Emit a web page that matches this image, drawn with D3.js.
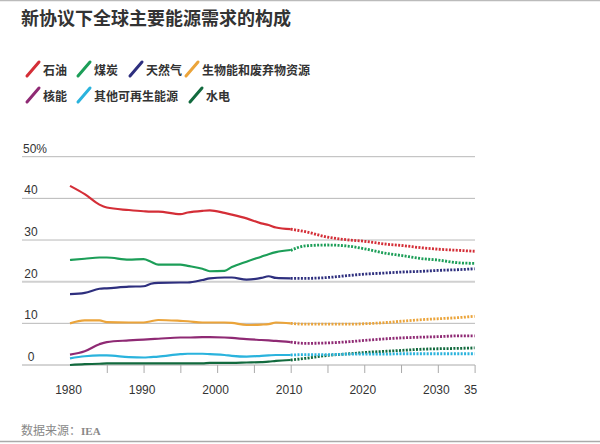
<!DOCTYPE html>
<html>
<head>
<meta charset="utf-8">
<script src="https://cdn.jsdelivr.net/npm/d3@7"></script>
<style>
  body { margin: 0; background: #fff; }
  svg { display: block; }
</style>
</head>
<body>
<div id="chart"></div>
<script>
var seriesNames = ["石油", "煤炭", "天然气", "生物能和废弃物资源", "核能", "其他可再生能源", "水电"];
var seriesColors = ["#d42e37", "#1c9e58", "#2e2f7e", "#eba43a", "#8f2a74", "#2ab3dd", "#126a3e"];

// actual shares, %
var histYears = [1980, 1982, 1984, 1985, 1988, 1990, 1991, 1992, 1995, 1996, 1998, 1999, 2001, 2002, 2004, 2006, 2007, 2008, 2010];
var oilHist     = [43.0, 41.0, 38.5, 37.8, 37.2, 36.9, 36.8, 36.8, 36.2, 36.6, 37.0, 37.1, 36.5, 36.1, 35.2, 34.0, 33.6, 33.0, 32.6];
var coalHist    = [25.2, 25.5, 25.8, 25.8, 25.3, 25.4, 24.8, 24.1, 24.1, 23.8, 23.1, 22.5, 22.6, 23.5, 24.8, 26.0, 26.6, 27.1, 27.6];
var gasHist     = [17.0, 17.3, 18.3, 18.4, 18.8, 18.9, 19.5, 19.7, 19.8, 19.8, 20.4, 20.8, 21.0, 21.0, 20.5, 20.9, 21.3, 20.9, 20.8];
var bioHist     = [10.0, 10.7, 10.7, 10.3, 10.2, 10.2, 10.5, 10.8, 10.6, 10.5, 10.2, 10.2, 10.2, 10.1, 9.6, 9.7, 9.8, 10.2, 10.0];
var nuclearHist = [2.5, 3.3, 5.0, 5.5, 5.9, 6.1, 6.2, 6.3, 6.6, 6.6, 6.7, 6.7, 6.6, 6.5, 6.2, 6.0, 5.9, 5.8, 5.5];
var otherHist   = [1.6, 2.1, 2.3, 2.3, 1.9, 1.8, 1.9, 2.0, 2.6, 2.7, 2.7, 2.6, 2.4, 2.2, 2.0, 2.2, 2.3, 2.4, 2.4];
var hydroHist   = [0.0, 0.2, 0.3, 0.4, 0.4, 0.4, 0.4, 0.4, 0.4, 0.4, 0.4, 0.5, 0.5, 0.5, 0.6, 0.7, 0.8, 1.0, 1.2];

// projections, %
var projYears = [2010, 2012, 2015, 2018, 2020, 2023, 2025, 2028, 2030, 2033, 2035];
var oilProj     = [32.6, 32.0, 30.7, 30.0, 29.7, 29.0, 28.7, 28.1, 27.8, 27.5, 27.3];
var coalProj    = [27.5, 28.6, 28.8, 28.5, 27.9, 26.8, 26.3, 25.5, 25.2, 24.5, 24.4];
var gasProj     = [20.8, 20.8, 21.0, 21.5, 21.8, 22.1, 22.3, 22.5, 22.7, 22.9, 23.1];
var bioProj     = [10.0, 9.8, 9.8, 9.8, 9.9, 10.2, 10.5, 10.9, 11.1, 11.4, 11.7];
var nuclearProj = [5.5, 5.2, 5.3, 5.6, 5.9, 6.3, 6.5, 6.7, 6.8, 7.0, 7.0];
var otherProj   = [2.4, 2.5, 2.5, 2.6, 2.6, 2.6, 2.7, 2.7, 2.7, 2.7, 2.7];
var hydroProj   = [1.2, 1.6, 2.3, 2.7, 3.0, 3.3, 3.5, 3.8, 3.9, 4.0, 4.1];

var yTicks = [0, 10, 20, 30, 40, 50];
var xLabelYears = [1980, 1990, 2000, 2010, 2020, 2030, 2035];
var xTickYears = [1985, 1990, 1995, 2000, 2005, 2010, 2015, 2020, 2025, 2030, 2035];

var hist = [oilHist, coalHist, gasHist, bioHist, nuclearHist, otherHist, hydroHist];
var proj = [oilProj, coalProj, gasProj, bioProj, nuclearProj, otherProj, hydroProj];

var W = 600, H = 444;
var cjk = "'Noto Sans CJK SC', sans-serif";
var latin = "'Liberation Sans', Arial, sans-serif";

var svg = d3.select("#chart").append("svg")
    .attr("width", W)
    .attr("height", H);

// frame rules
svg.append("line").attr("x1", 0).attr("x2", W).attr("y1", 0.5).attr("y2", 0.5)
    .attr("stroke", "#bbb").attr("stroke-width", 1.5);
svg.append("line").attr("x1", 0).attr("x2", W).attr("y1", 441.5).attr("y2", 441.5)
    .attr("stroke", "#aaa").attr("stroke-width", 1.5);

// title
svg.append("text")
    .attr("x", 21).attr("y", 25)
    .style("font-family", cjk).style("font-weight", "bold")
    .style("font-size", "18px").attr("fill", "#333")
    .text("新协议下全球主要能源需求的构成");

var x = d3.scaleLinear().domain([1980, 2035]).range([70, 474.6]);
var y = d3.scaleLinear().domain([0, 50]).range([365, 156.7]);

// gridlines
svg.append("g").selectAll("line")
    .data(yTicks.filter(function(d) { return d > 0; }))
    .enter().append("line")
    .attr("x1", 22).attr("x2", 475)
    .attr("y1", function(d) { return y(d); })
    .attr("y2", function(d) { return y(d); })
    .attr("stroke", function(d) { return d == 20 ? "#d0d0d0" : "#b8b8b8"; })
    .attr("stroke-width", function(d) { return d == 20 ? 2 : 1; });

// y labels
svg.append("g").selectAll("text")
    .data(yTicks)
    .enter().append("text")
    .attr("x", function(d) { return d == 50 ? 23 : 31; })
    .attr("y", function(d) { return y(d) - 4; })
    .attr("text-anchor", function(d) { return d == 50 ? "start" : "middle"; })
    .style("font-family", latin).style("font-size", "12px").attr("fill", "#333")
    .text(function(d) { return d == 50 ? "50%" : d; });

// x axis
var xAxis = d3.axisBottom(x)
    .tickValues(xTickYears)
    .tickSize(8)
    .tickSizeOuter(0)
    .tickFormat("");
var gx = svg.append("g")
    .attr("transform", "translate(0," + y(0) + ")")
    .call(xAxis);
gx.select(".domain").remove();
gx.selectAll(".tick line").attr("stroke", "#aaa");
svg.append("line").attr("x1", 22).attr("x2", 475)
    .attr("y1", y(0)).attr("y2", y(0))
    .attr("stroke", "#aaa").attr("stroke-width", 1);

svg.append("g").selectAll("text")
    .data(xLabelYears)
    .enter().append("text")
    .attr("x", function(d) { return x(d) - (d == 2035 ? 4 : 1.5); })
    .attr("y", 394)
    .attr("text-anchor", "middle")
    .style("font-family", latin).style("font-size", "12px").attr("fill", "#333")
    .text(function(d) { return d == 2035 ? "35" : d; });

var line = d3.line()
    .x(function(d) { return x(d[0]); })
    .y(function(d) { return y(d[1]); })
    .curve(d3.curveMonotoneX);

// draw back to front so oil ends up on top
for (var i = seriesNames.length - 1; i >= 0; i--) {
    var h = histYears.map(function(yr, j) { return [yr, hist[i][j]]; });
    var p = projYears.map(function(yr, j) { return [yr, proj[i][j]]; });
    svg.append("path")
        .datum(h)
        .attr("d", line)
        .attr("fill", "none")
        .attr("stroke", seriesColors[i])
        .attr("stroke-width", 2.2)
        .attr("stroke-linejoin", "round");
    svg.append("path")
        .datum(p)
        .attr("d", line)
        .attr("fill", "none")
        .attr("stroke", seriesColors[i])
        .attr("stroke-width", 2.8)
        .attr("stroke-dasharray", "2,1.4");
}

// legend
var legendPos = [[27, 70], [78, 70], [130, 70], [186, 70], [27, 96], [78, 96], [190, 96]];
var legend = svg.append("g").selectAll("g")
    .data(seriesNames)
    .enter().append("g")
    .attr("transform", function(d, i) { return "translate(" + legendPos[i][0] + "," + legendPos[i][1] + ")"; });
legend.append("line")
    .attr("x1", 0).attr("y1", 6)
    .attr("x2", 12).attr("y2", -8)
    .attr("stroke", function(d, i) { return seriesColors[i]; })
    .attr("stroke-width", 3)
    .attr("stroke-linecap", "round");
legend.append("text")
    .attr("x", 16).attr("y", 4.5)
    .style("font-family", cjk).style("font-weight", "bold")
    .style("font-size", "12px").attr("fill", "#333")
    .text(function(d) { return d; });

// source
svg.append("text")
    .attr("x", 21).attr("y", 435)
    .style("font-family", cjk).style("font-size", "12px").attr("fill", "#888")
    .text("数据来源：")
    .append("tspan")
    .style("font-family", "'Liberation Serif', serif").style("font-weight", "bold")
    .attr("font-size", "11px")
    .text("IEA");
</script>
</body>
</html>
